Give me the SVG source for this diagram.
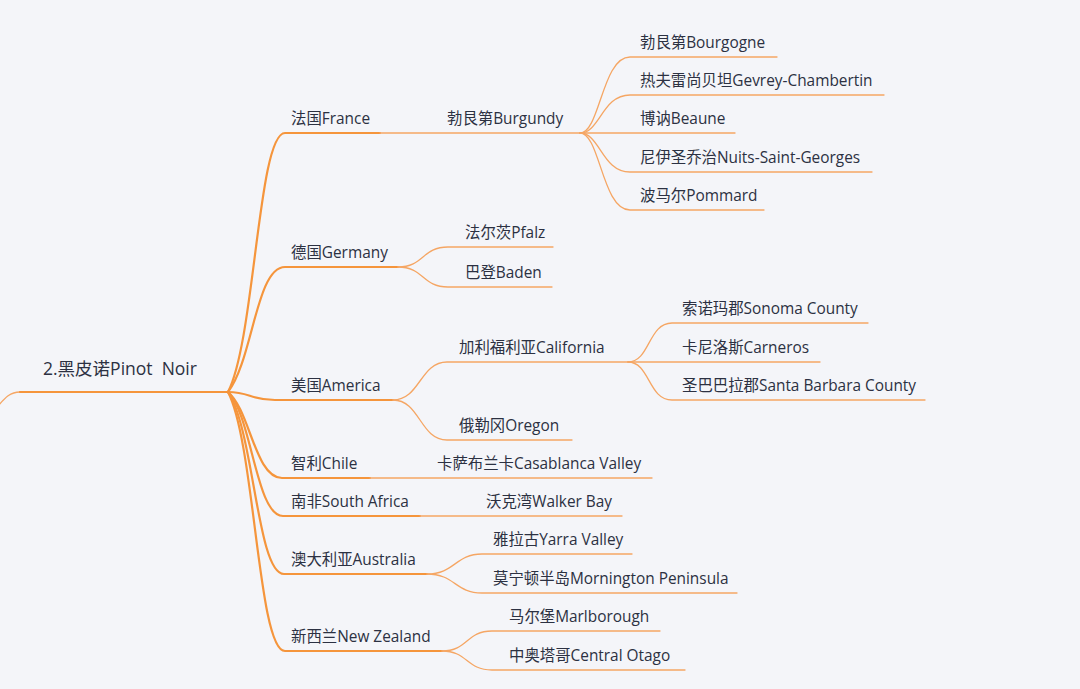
<svg xmlns="http://www.w3.org/2000/svg" width="1080" height="689" viewBox="0 0 1080 689">
<style>
text{font-family:"Open Sans","Noto Sans CJK SC",sans-serif;fill:#2c3142;font-size:15.4px}
.root{font-size:17.5px;white-space:pre}
.m{fill:none;stroke:#f5953c;stroke-width:2.2;stroke-linecap:round}
.s{fill:none;stroke:#f5a664;stroke-width:1.3;stroke-linecap:round}
</style>
<rect width="1080" height="689" fill="#f4f5f9"/>
<g id="connectors">
<path class="s" d="M20,392 C10,392 5,398 -2,406"/>
<path class="m" d="M20,392 L228,392"/>
<path class="m" d="M228,392 C255,340 258,133 285,133 L380,133"/>
<path class="m" d="M228,392 C253,360 256,267 285,267 L398,267"/>
<path class="m" d="M228,392 C250,392 250,400 275,400 L393,400"/>
<path class="m" d="M228,392 C250,410 255,478 282,478 L370,478"/>
<path class="m" d="M228,392 C252,416 256,516 283,516 L420,516"/>
<path class="m" d="M228,392 C254,430 257,574 284,574 L427,574"/>
<path class="m" d="M228,392 C255,444 258,651 285,651 L442,651"/>
<path class="s" d="M380,133 L580,133"/>
<path class="s" d="M580,133 C600,133 602,57 630,57 L777,57"/>
<path class="s" d="M580,133 C600,133 602,95 630,95 L884,95"/>
<path class="s" d="M580,133 L735,133"/>
<path class="s" d="M580,133 C600,133 602,172 630,172 L872,172"/>
<path class="s" d="M580,133 C600,133 602,210 630,210 L764,210"/>
<path class="s" d="M398,267 C424,267 422,247 448,247 L553,247"/>
<path class="s" d="M398,267 C424,267 422,287 448,287 L552,287"/>
<path class="s" d="M393,400 C420,400 420,362 447,362 L628,362"/>
<path class="s" d="M393,400 C420,400 420,440 447,440 L572,440"/>
<path class="s" d="M628,362 C650,362 648,323 672,323 L868,323"/>
<path class="s" d="M628,362 L820,362"/>
<path class="s" d="M628,362 C650,362 648,400 672,400 L925,400"/>
<path class="s" d="M370,478 L652,478"/>
<path class="s" d="M420,516 L622,516"/>
<path class="s" d="M427,574 C455,574 455,554 482,554 L632,554"/>
<path class="s" d="M427,574 C455,574 455,593 482,593 L737,593"/>
<path class="s" d="M442,651 C468,651 466,631 492,631 L660,631"/>
<path class="s" d="M442,651 C468,651 466,670 492,670 L685,670"/>
</g>
<g id="root"><text class="root" x="43" y="375" xml:space="preserve">2.黑皮诺Pinot  Noir</text></g>
<g id="france"><text x="291" y="124">法国France</text></g>
<g id="burgundy"><text x="447" y="124">勃艮第Burgundy</text></g>
<g id="bourgogne"><text x="640" y="48">勃艮第Bourgogne</text></g>
<g id="gevrey"><text x="640" y="86">热夫雷尚贝坦Gevrey-Chambertin</text></g>
<g id="beaune"><text x="640" y="124">博讷Beaune</text></g>
<g id="nuits"><text x="640" y="163">尼伊圣乔治Nuits-Saint-Georges</text></g>
<g id="pommard"><text x="640" y="201">波马尔Pommard</text></g>
<g id="germany"><text x="291" y="258">德国Germany</text></g>
<g id="pfalz"><text x="465" y="238">法尔茨Pfalz</text></g>
<g id="baden"><text x="465" y="278">巴登Baden</text></g>
<g id="america"><text x="291" y="391">美国America</text></g>
<g id="california"><text x="459" y="353">加利福利亚California</text></g>
<g id="sonoma"><text x="682" y="314">索诺玛郡Sonoma County</text></g>
<g id="carneros"><text x="682" y="353">卡尼洛斯Carneros</text></g>
<g id="santabarbara"><text x="682" y="391">圣巴巴拉郡Santa Barbara County</text></g>
<g id="oregon"><text x="459" y="431">俄勒冈Oregon</text></g>
<g id="chile"><text x="291" y="469">智利Chile</text></g>
<g id="casablanca"><text x="437" y="469">卡萨布兰卡Casablanca Valley</text></g>
<g id="southafrica"><text x="291" y="507">南非South Africa</text></g>
<g id="walkerbay"><text x="486" y="507">沃克湾Walker Bay</text></g>
<g id="australia"><text x="291" y="565">澳大利亚Australia</text></g>
<g id="yarra"><text x="493" y="545">雅拉古Yarra Valley</text></g>
<g id="mornington"><text x="493" y="584">莫宁顿半岛Mornington Peninsula</text></g>
<g id="newzealand"><text x="291" y="642">新西兰New Zealand</text></g>
<g id="marlborough"><text x="509" y="622">马尔堡Marlborough</text></g>
<g id="otago"><text x="509" y="661">中奥塔哥Central Otago</text></g>
</svg>
